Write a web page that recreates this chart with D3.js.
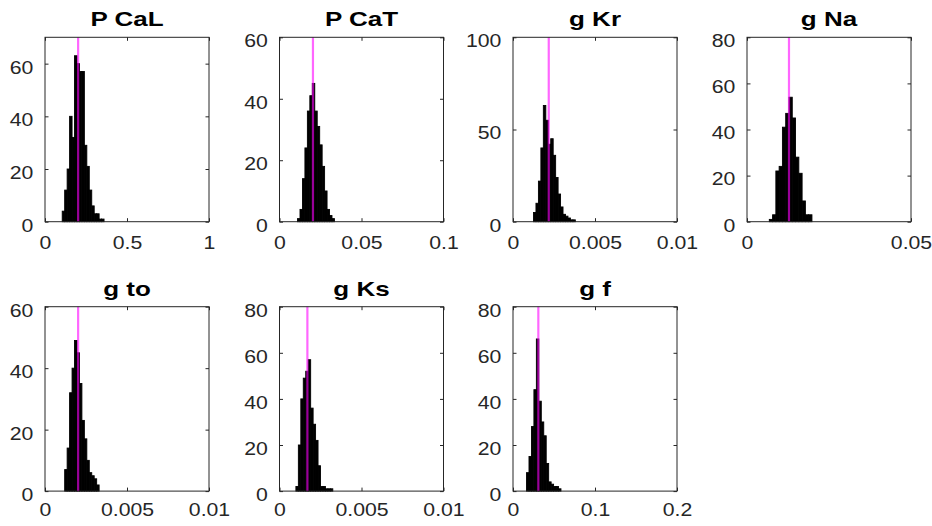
<!DOCTYPE html>
<html><head><meta charset="utf-8">
<script src="https://cdn.jsdelivr.net/npm/d3@7"></script>
<style>body{margin:0;background:#fff}</style>
</head><body><svg id="c" width="932" height="526"></svg>
<script>
// ---- data ----
const titles = ["P CaL", "P CaT", "g Kr", "g Na", "g to", "g Ks", "g f"];
const binStarts = [0.105, 0.011, 0.00125, 0.0068, 0.0012, 0.001, 0.0165];
const binWidths = [0.015, 0.0015, 0.00015, 0.001, 0.00015, 0.00015, 0.003];
const countsPCaL = [4, 12, 20, 40, 32, 63, 60, 57, 57, 29, 21, 12, 6, 3, 3, 1, 1, 0];
const countsPCaT = [1, 4, 14, 24, 36, 41, 45, 36, 31, 25, 18, 10, 4, 2, 1];
const countsGKr  = [5, 10, 22, 40, 63, 55, 42, 45, 36, 24, 15, 8, 4, 3, 2, 1, 1];
const countsGNa  = [1, 3, 22, 24, 41, 47, 54, 45, 28, 21, 9, 3, 3];
const countsGto  = [7, 14, 32, 40, 49, 45, 35, 23, 17, 10, 6, 5, 4, 2];
const countsGKs  = [2, 20, 40, 49, 52, 57, 36, 29, 22, 11, 2, 2, 1, 1, 1];
const countsGf   = [8, 15, 28, 44, 66, 39, 30, 24, 12, 4, 3, 2, 2, 1];
const trueValues = [0.202, 0.0204, 0.00218, 0.0128, 0.00202, 0.0017, 0.0309];
const xMax = [1, 0.1, 0.01, 0.05, 0.01, 0.01, 0.2];
const yMax = [70, 60, 100, 80, 60, 80, 80];
const xTicks = [[0, 0.5, 1], [0, 0.05, 0.1], [0, 0.005, 0.01], [0, 0.05], [0, 0.005, 0.01], [0, 0.005, 0.01], [0, 0.1, 0.2]];
const xTickLabels = [["0", "0.5", "1"], ["0", "0.05", "0.1"], ["0", "0.005", "0.01"], ["0", "0.05"], ["0", "0.005", "0.01"], ["0", "0.005", "0.01"], ["0", "0.1", "0.2"]];
const yTicks = [[0, 20, 40, 60], [0, 20, 40, 60], [0, 50, 100], [0, 20, 40, 60, 80], [0, 20, 40, 60], [0, 20, 40, 60, 80], [0, 20, 40, 60, 80]];
const allCounts = [countsPCaL, countsPCaT, countsGKr, countsGNa, countsGto, countsGKs, countsGf];

// ---- layout ----
const svg = d3.select("#c");
const colLefts = [45, 279.5, 513, 747];
const rowTops = [37.3, 306.7];
const xLabelOffsets = [27.5, 25];
const W = 164, H = 184.4;
const FONT = "'Liberation Sans', Arial, Helvetica, sans-serif";
const AX = "#262626";
const SX = 1.18, TSX = 1.3;
const TL = 3.5;

titles.forEach((t, i) => {
  const col = i % 4, row = Math.floor(i / 4);
  const g = svg.append("g").attr("transform", `translate(${colLefts[col]},${rowTops[row]})`);
  const x = d3.scaleLinear().domain([0, xMax[i]]).range([0, W]);
  const y = d3.scaleLinear().domain([0, yMax[i]]).range([H, 0]);
  const bins = allCounts[i].map((c, k) => ({
    x0: binStarts[i] + k * binWidths[i],
    x1: binStarts[i] + (k + 1) * binWidths[i],
    c
  }));
  g.selectAll("rect.bar").data(bins).join("rect").attr("class", "bar")
    .attr("x", d => x(d.x0)).attr("width", d => x(d.x1) - x(d.x0))
    .attr("y", d => y(d.c)).attr("height", d => y(0) - y(d.c))
    .attr("fill", "#000").attr("stroke", "#000").attr("stroke-width", 0.9);

  g.append("line")
    .attr("x1", x(trueValues[i])).attr("x2", x(trueValues[i]))
    .attr("y1", y(0)).attr("y2", y(yMax[i]))
    .attr("stroke", "#ff00ff").attr("stroke-width", 2.2).attr("stroke-opacity", 0.6);

  // axes
  const gb = g.append("g").attr("transform", `translate(0,${H})`)
    .call(d3.axisBottom(x).tickValues(xTicks[i]).tickFormat((d, k) => xTickLabels[i][k])
      .tickSizeInner(-TL).tickSizeOuter(0).tickPadding(0));
  const gt = g.append("g")
    .call(d3.axisTop(x).tickValues(xTicks[i]).tickFormat("").tickSizeInner(-TL).tickSizeOuter(0));
  const gl = g.append("g")
    .call(d3.axisLeft(y).tickValues(yTicks[i]).tickFormat(d3.format("d"))
      .tickSizeInner(-TL).tickSizeOuter(0).tickPadding(0));
  const gr = g.append("g").attr("transform", `translate(${W},0)`)
    .call(d3.axisRight(y).tickValues(yTicks[i]).tickFormat("").tickSizeInner(-TL).tickSizeOuter(0));
  [gb, gt, gl, gr].forEach(a => {
    a.select(".domain").remove();
    a.selectAll("line").attr("stroke", AX);
    a.attr("font-family", FONT).attr("font-size", 18);
  });
  gb.selectAll("text").attr("y", xLabelOffsets[row]).attr("dy", 0).attr("fill", AX)
    .attr("transform", `scale(${SX},1)`);
  gl.selectAll("text").attr("x", -11.7 / SX).attr("dy", "0.52em").attr("fill", AX)
    .attr("transform", `scale(${SX},1)`);

  g.append("rect").attr("x", 0).attr("y", 0).attr("width", W).attr("height", H)
    .attr("fill", "none").attr("stroke", AX).attr("stroke-width", 1);

  g.append("text")
    .attr("transform", `translate(${W / 2},${-11}) scale(${TSX},1)`)
    .attr("text-anchor", "middle")
    .attr("font-family", FONT).attr("font-weight", "bold").attr("font-size", 20)
    .attr("fill", "#000").text(t);
});
</script>
</body></html>
